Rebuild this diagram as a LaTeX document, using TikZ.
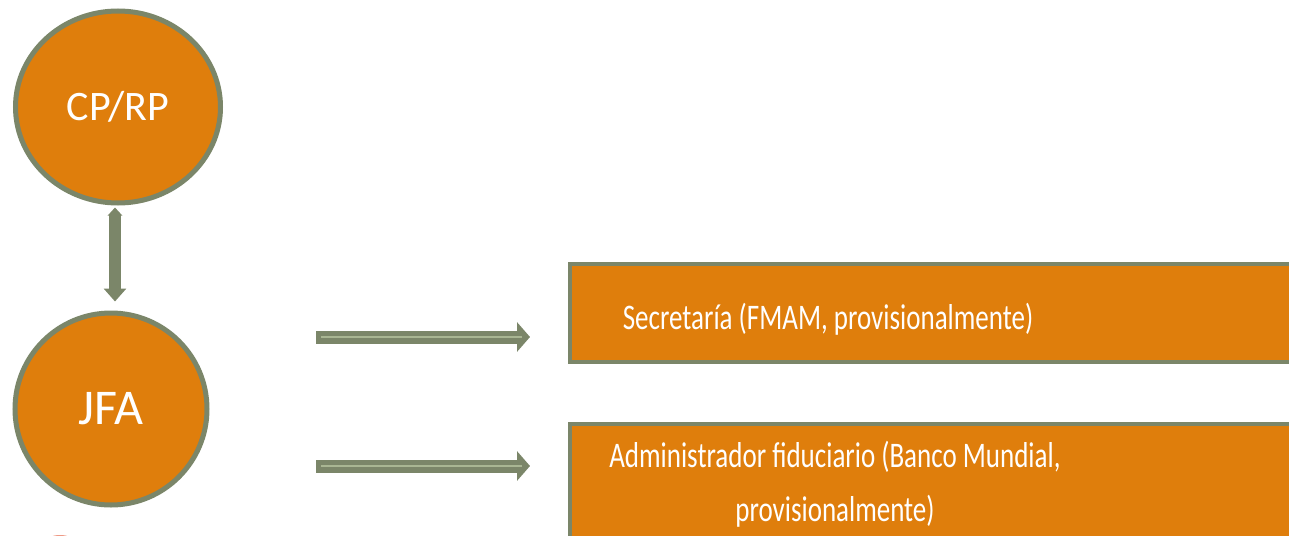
\documentclass[tikz,border=0pt]{standalone}
\usepackage{fontspec}
\setmainfont{Carlito}
\newfontfamily\narrowfont[FakeStretch=0.75]{Carlito}
\usetikzlibrary{arrows.meta,shapes.geometric,positioning}
\definecolor{slideorange}{HTML}{DF7E0C}
\definecolor{sage}{HTML}{7B8669}
\definecolor{sagelight}{HTML}{A9B693}
\definecolor{blush}{HTML}{EE9A86}
\begin{document}
\begin{tikzpicture}[x=0.5pt, y=-0.5pt,
	ball/.style={ellipse, fill=slideorange, draw=sage, line width=2.5pt, text=white, inner sep=0pt},
	panel/.style={rectangle, fill=slideorange, draw=sage, line width=2pt, inner sep=0pt},
	paneltext/.style={text=white, align=center, font=\narrowfont\fontsize{18}{27}\selectfont},
	fat/.style={draw=sage, line width=6.5pt, -{Triangle[length=6.5pt, width=14.5pt]}},
	glint/.style={draw=sagelight, line width=0.8pt}]
	\clip (0,0) rectangle (1289,535);
	\fill[white] (0,0) rectangle (1289,535);

	\node[ball, minimum width=102.5pt, minimum height=96pt, font=\fontsize{21}{25}\selectfont](cprp) at (118,107){CP/RP};
	\node[ball, minimum width=96pt, minimum height=96pt, font=\fontsize{25}{29}\selectfont](jfa) at (111,409){JFA};

	\node[panel, minimum width=385pt, minimum height=49pt](secbox) at (955,313){};
	\node[panel, minimum width=385pt, minimum height=88pt](trustbox) at (955,512){};
	\node[paneltext](sectext) at (828,319){Secretaría (FMAM, provisionalmente)};
	\node[paneltext](trusttext) at (835,484){Administrador fiduciario (Banco Mundial,\\provisionalmente)};

	\fill[blush] (60,562) ellipse (28 and 27);

	\coordinate (onestart) at (316,337);
	\coordinate (oneend) at (530,337);
	\coordinate (twostart) at (316,466);
	\coordinate (twoend) at (530,466);

	\draw [fat] (onestart) -- (oneend);
	\draw [fat] (twostart) -- (twoend);
	\draw [glint] ([xshift=2.5pt]onestart) -- ([xshift=-4pt]oneend);
	\draw [glint] ([xshift=2.5pt]twostart) -- ([xshift=-4pt]twoend);

	\draw [draw=sage, line width=6pt, {Triangle[length=4pt, width=7pt]}-{Triangle[length=6.5pt, width=11pt]}, shorten <=1pt, shorten >=4.5pt] ([xshift=-1.5pt]cprp.south) -- ([xshift=-1.5pt]cprp.south |- jfa.north);
\end{tikzpicture}
\end{document}
